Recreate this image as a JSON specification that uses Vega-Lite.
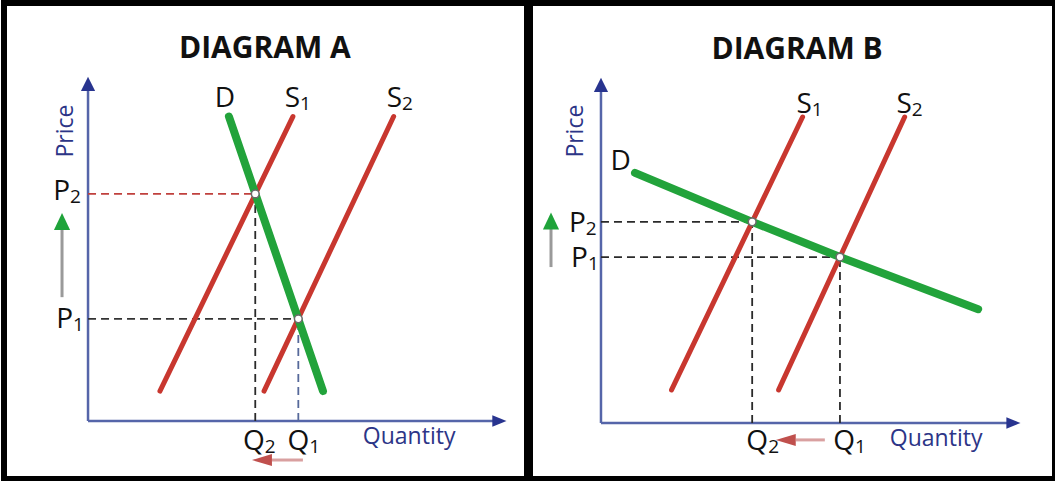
{
  "$schema": "https://vega.github.io/schema/vega-lite/v6.json",
  "padding": {"left": 1, "top": 0, "right": 0, "bottom": 0},
  "spacing": -6,
  "background": "white",
  "config": {"view": {"stroke": "#000000", "strokeWidth": 6}, "font": "Open Sans"},
  "datasets": {
    "curves": [
      {"panel": "A", "curve": "D", "ord": 1, "q": 3.37, "p": 8.85},
      {"panel": "A", "curve": "D", "ord": 2, "q": 5.62, "p": 0.87},
      {"panel": "A", "curve": "S1", "ord": 1, "q": 1.72, "p": 0.87},
      {"panel": "A", "curve": "S1", "ord": 2, "q": 4.90, "p": 8.85},
      {"panel": "A", "curve": "S2", "ord": 1, "q": 4.21, "p": 0.87},
      {"panel": "A", "curve": "S2", "ord": 2, "q": 7.31, "p": 8.85},
      {"panel": "B", "curve": "D", "ord": 1, "q": 0.81, "p": 7.25},
      {"panel": "B", "curve": "D", "ord": 2, "q": 3.60, "p": 5.83},
      {"panel": "B", "curve": "D", "ord": 3, "q": 5.69, "p": 4.81},
      {"panel": "B", "curve": "D", "ord": 4, "q": 8.98, "p": 3.30},
      {"panel": "B", "curve": "S1", "ord": 1, "q": 1.68, "p": 0.96},
      {"panel": "B", "curve": "S1", "ord": 2, "q": 4.80, "p": 8.87},
      {"panel": "B", "curve": "S2", "ord": 1, "q": 4.23, "p": 0.96},
      {"panel": "B", "curve": "S2", "ord": 2, "q": 7.23, "p": 8.87}
    ],
    "crossings": [
      {"panel": "A", "q": 4.00, "p": 6.60},
      {"panel": "A", "q": 5.03, "p": 2.97},
      {"panel": "B", "q": 3.60, "p": 5.83},
      {"panel": "B", "q": 5.69, "p": 4.81}
    ],
    "rules": [
      {"panel": "A", "kind": "axis", "seg": "price axis", "q": 0, "p": 0, "q2": 0, "p2": 9.75},
      {"panel": "A", "kind": "axis", "seg": "quantity axis", "q": 0, "p": 0, "q2": 9.80, "p2": 0},
      {"panel": "A", "kind": "guide", "seg": "P2 level", "q": 0, "p": 6.60, "q2": 4.00, "p2": 6.60},
      {"panel": "A", "kind": "guide", "seg": "Q2 level", "q": 4.00, "p": 0, "q2": 4.00, "p2": 6.60},
      {"panel": "A", "kind": "guide", "seg": "P1 level", "q": 0, "p": 2.97, "q2": 5.03, "p2": 2.97},
      {"panel": "A", "kind": "guide", "seg": "Q1 level", "q": 5.03, "p": 0, "q2": 5.03, "p2": 2.97},
      {"panel": "A", "kind": "change", "seg": "price change", "q": -0.622, "p": 3.60, "q2": -0.622, "p2": 5.61},
      {"panel": "A", "kind": "change", "seg": "quantity change", "q": 4.40, "p": -1.134, "q2": 5.14, "p2": -1.134},
      {"panel": "B", "kind": "axis", "seg": "price axis", "q": 0, "p": 0, "q2": 0, "p2": 9.75},
      {"panel": "B", "kind": "axis", "seg": "quantity axis", "q": 0, "p": 0, "q2": 9.80, "p2": 0},
      {"panel": "B", "kind": "guide", "seg": "P2 level", "q": 0, "p": 5.83, "q2": 3.60, "p2": 5.83},
      {"panel": "B", "kind": "guide", "seg": "Q2 level", "q": 3.60, "p": 0, "q2": 3.60, "p2": 5.83},
      {"panel": "B", "kind": "guide", "seg": "P1 level", "q": 0, "p": 4.81, "q2": 5.69, "p2": 4.81},
      {"panel": "B", "kind": "guide", "seg": "Q1 level", "q": 5.69, "p": 0, "q2": 5.69, "p2": 4.81},
      {"panel": "B", "kind": "change", "seg": "price change", "q": -1.19, "p": 4.52, "q2": -1.19, "p2": 5.65},
      {"panel": "B", "kind": "change", "seg": "quantity change", "q": 4.64, "p": -0.49, "q2": 5.33, "p2": -0.49}
    ],
    "heads": [
      {"panel": "A", "head": "price axis", "q": 0, "p": 9.80},
      {"panel": "A", "head": "quantity axis", "q": 9.84, "p": 0},
      {"panel": "A", "head": "price change", "q": -0.622, "p": 5.80},
      {"panel": "A", "head": "quantity change", "q": 4.16, "p": -1.134},
      {"panel": "B", "head": "price axis", "q": 0, "p": 9.80},
      {"panel": "B", "head": "quantity axis", "q": 9.82, "p": 0},
      {"panel": "B", "head": "price change", "q": -1.19, "p": 5.855},
      {"panel": "B", "head": "quantity change", "q": 4.40, "p": -0.49}
    ],
    "letters": [
      {"panel": "A", "main": "D", "sub": "", "q": 3.52, "p": 9.13},
      {"panel": "A", "main": "S", "sub": "1", "q": 5.07, "p": 9.13},
      {"panel": "A", "main": "S", "sub": "2", "q": 7.51, "p": 9.13},
      {"panel": "A", "main": "P", "sub": "2", "q": -0.43, "p": 6.42},
      {"panel": "A", "main": "P", "sub": "1", "q": -0.36, "p": 2.70},
      {"panel": "A", "main": "Q", "sub": "2", "q": 4.23, "p": -0.84},
      {"panel": "A", "main": "Q", "sub": "1", "q": 5.29, "p": -0.84},
      {"panel": "B", "main": "D", "sub": "", "q": 0.71, "p": 7.33},
      {"panel": "B", "main": "S", "sub": "1", "q": 5.02, "p": 8.99},
      {"panel": "B", "main": "S", "sub": "2", "q": 7.40, "p": 8.99},
      {"panel": "B", "main": "P", "sub": "2", "q": -0.36, "p": 5.54},
      {"panel": "B", "main": "P", "sub": "1", "q": -0.31, "p": 4.52},
      {"panel": "B", "main": "Q", "sub": "2", "q": 3.98, "p": -0.78},
      {"panel": "B", "main": "Q", "sub": "1", "q": 6.05, "p": -0.78}
    ],
    "names": [
      {"panel": "A", "name": "Price", "q": -0.526, "p": 8.43},
      {"panel": "A", "name": "Quantity", "q": 7.68, "p": -0.47},
      {"panel": "B", "name": "Price", "q": -0.595, "p": 8.46},
      {"panel": "B", "name": "Quantity", "q": 7.98, "p": -0.46}
    ],
    "titles": [
      {"panel": "A", "title": "DIAGRAM A", "q": 4.23, "p": 10.81},
      {"panel": "B", "title": "DIAGRAM B", "q": 4.67, "p": 10.81}
    ]
  },
  "hconcat": [
    {
      "width": 523,
      "height": 476,
      "encoding": {
        "x": {"field": "q", "type": "quantitative", "scale": {"domain": [-2.01, 10.5], "nice": false, "zero": false}, "axis": null},
        "y": {"field": "p", "type": "quantitative", "scale": {"domain": [-1.686, 12.151], "nice": false, "zero": false}, "axis": null}
      },
      "resolve": {"scale": {"color": "independent", "shape": "independent"}},
      "layer": [
        {
          "data": {"name": "rules"},
          "transform": [{"filter": "datum.panel === 'A' && datum.kind === 'axis'"}],
          "mark": {"type": "rule", "color": "#5565a9", "strokeWidth": 2.5},
          "encoding": {"x2": {"field": "q2"}, "y2": {"field": "p2"}}
        },
        {
          "data": {"name": "heads"},
          "transform": [{"filter": "datum.panel === 'A' && (datum.head === 'price axis' || datum.head === 'quantity axis')"}],
          "mark": {"type": "point", "filled": true, "opacity": 1, "color": "#28348f", "size": 200},
          "encoding": {
            "shape": {"field": "head", "type": "nominal", "legend": null,
              "scale": {"domain": ["price axis", "quantity axis"], "range": ["M0,-1L1,1L-1,1Z", "M1,0L-1,-0.8L-1,0.8Z"]}}
          }
        },
        {
          "data": {"name": "rules"},
          "transform": [{"filter": "datum.panel === 'A' && datum.kind === 'guide'"}],
          "mark": {"type": "rule", "strokeWidth": 1.8, "strokeDash": [8, 5]},
          "encoding": {
            "x2": {"field": "q2"}, "y2": {"field": "p2"},
            "color": {"field": "seg", "type": "nominal", "legend": null,
              "scale": {"domain": ["P2 level", "Q2 level", "P1 level", "Q1 level"], "range": ["#c0403d", "#2a2a2a", "#333333", "#56699a"]}}
          }
        },
        {
          "data": {"name": "curves"},
          "transform": [{"filter": "datum.panel === 'A' && datum.curve !== 'D'"}],
          "mark": {"type": "line", "color": "#c8372f", "strokeWidth": 5, "strokeCap": "round"},
          "encoding": {"detail": {"field": "curve"}, "order": {"field": "ord"}}
        },
        {
          "data": {"name": "curves"},
          "transform": [{"filter": "datum.panel === 'A' && datum.curve === 'D'"}],
          "mark": {"type": "line", "color": "#22a33b", "strokeWidth": 8, "strokeCap": "round"},
          "encoding": {"order": {"field": "ord"}}
        },
        {
          "data": {"name": "crossings"},
          "transform": [{"filter": "datum.panel === 'A'"}],
          "mark": {"type": "point", "shape": "circle", "filled": true, "fill": "#ffffff", "stroke": "#6a6a6a", "strokeWidth": 1.5, "size": 60, "opacity": 1}
        },
        {
          "data": {"name": "rules"},
          "transform": [{"filter": "datum.panel === 'A' && datum.kind === 'change'"}],
          "mark": {"type": "rule", "strokeWidth": 3},
          "encoding": {
            "x2": {"field": "q2"}, "y2": {"field": "p2"},
            "color": {"field": "seg", "type": "nominal", "legend": null,
              "scale": {"domain": ["price change", "quantity change"], "range": ["#9a9a9a", "#d9a0a0"]}}
          }
        },
        {
          "data": {"name": "heads"},
          "transform": [{"filter": "datum.panel === 'A' && datum.head === 'price change'"}],
          "mark": {"type": "point", "filled": true, "opacity": 1, "color": "#1fa33a", "size": 289, "shape": "M0,-1L0.95,1L-0.95,1Z"}
        },
        {
          "data": {"name": "heads"},
          "transform": [{"filter": "datum.panel === 'A' && datum.head === 'quantity change'"}],
          "mark": {"type": "point", "filled": true, "opacity": 1, "color": "#c0504d", "size": 400, "shape": "M-1,0L1,-0.6L1,0.6Z"}
        },
        {
          "data": {"name": "letters"},
          "transform": [{"filter": "datum.panel === 'A'"}],
          "mark": {"type": "text", "align": "right", "baseline": "alphabetic", "font": "Open Sans", "fontSize": 28, "color": "#111111"},
          "encoding": {"text": {"field": "main"}}
        },
        {
          "data": {"name": "letters"},
          "transform": [{"filter": "datum.panel === 'A'"}],
          "mark": {"type": "text", "align": "left", "baseline": "alphabetic", "font": "Open Sans", "fontSize": 19, "dy": 3, "color": "#111111"},
          "encoding": {"text": {"field": "sub"}}
        },
        {
          "data": {"name": "names"},
          "transform": [{"filter": "datum.panel === 'A' && datum.name === 'Price'"}],
          "mark": {"type": "text", "align": "center", "baseline": "middle", "font": "Open Sans", "fontSize": 23, "angle": 270, "color": "#2c3587"},
          "encoding": {"text": {"field": "name"}}
        },
        {
          "data": {"name": "names"},
          "transform": [{"filter": "datum.panel === 'A' && datum.name === 'Quantity'"}],
          "mark": {"type": "text", "align": "center", "baseline": "middle", "font": "Open Sans", "fontSize": 23, "color": "#2c3587"},
          "encoding": {"text": {"field": "name"}}
        },
        {
          "data": {"name": "titles"},
          "transform": [{"filter": "datum.panel === 'A'"}],
          "mark": {"type": "text", "align": "center", "baseline": "middle", "font": "Open Sans", "fontSize": 30, "fontWeight": "bold", "color": "#111111"},
          "encoding": {"text": {"field": "title"}}
        }
      ]
    },
    {
      "width": 525,
      "height": 476,
      "encoding": {
        "x": {"field": "q", "type": "quantitative", "scale": {"domain": [-1.69, 10.81], "nice": false, "zero": false}, "axis": null},
        "y": {"field": "p", "type": "quantitative", "scale": {"domain": [-1.623, 12.174], "nice": false, "zero": false}, "axis": null}
      },
      "resolve": {"scale": {"color": "independent", "shape": "independent"}},
      "layer": [
        {
          "data": {"name": "rules"},
          "transform": [{"filter": "datum.panel === 'B' && datum.kind === 'axis'"}],
          "mark": {"type": "rule", "color": "#5565a9", "strokeWidth": 2.5},
          "encoding": {"x2": {"field": "q2"}, "y2": {"field": "p2"}}
        },
        {
          "data": {"name": "heads"},
          "transform": [{"filter": "datum.panel === 'B' && (datum.head === 'price axis' || datum.head === 'quantity axis')"}],
          "mark": {"type": "point", "filled": true, "opacity": 1, "color": "#28348f", "size": 200},
          "encoding": {
            "shape": {"field": "head", "type": "nominal", "legend": null,
              "scale": {"domain": ["price axis", "quantity axis"], "range": ["M0,-1L1,1L-1,1Z", "M1,0L-1,-0.8L-1,0.8Z"]}}
          }
        },
        {
          "data": {"name": "rules"},
          "transform": [{"filter": "datum.panel === 'B' && datum.kind === 'guide'"}],
          "mark": {"type": "rule", "strokeWidth": 1.8, "strokeDash": [8, 5], "color": "#2a2a2a"},
          "encoding": {"x2": {"field": "q2"}, "y2": {"field": "p2"}}
        },
        {
          "data": {"name": "curves"},
          "transform": [{"filter": "datum.panel === 'B' && datum.curve !== 'D'"}],
          "mark": {"type": "line", "color": "#c8372f", "strokeWidth": 5, "strokeCap": "round"},
          "encoding": {"detail": {"field": "curve"}, "order": {"field": "ord"}}
        },
        {
          "data": {"name": "curves"},
          "transform": [{"filter": "datum.panel === 'B' && datum.curve === 'D'"}],
          "mark": {"type": "line", "color": "#22a33b", "strokeWidth": 8, "strokeCap": "round"},
          "encoding": {"order": {"field": "ord"}}
        },
        {
          "data": {"name": "crossings"},
          "transform": [{"filter": "datum.panel === 'B'"}],
          "mark": {"type": "point", "shape": "circle", "filled": true, "fill": "#ffffff", "stroke": "#6a6a6a", "strokeWidth": 1.5, "size": 60, "opacity": 1}
        },
        {
          "data": {"name": "rules"},
          "transform": [{"filter": "datum.panel === 'B' && datum.kind === 'change'"}],
          "mark": {"type": "rule", "strokeWidth": 3},
          "encoding": {
            "x2": {"field": "q2"}, "y2": {"field": "p2"},
            "color": {"field": "seg", "type": "nominal", "legend": null,
              "scale": {"domain": ["price change", "quantity change"], "range": ["#9a9a9a", "#d9a0a0"]}}
          }
        },
        {
          "data": {"name": "heads"},
          "transform": [{"filter": "datum.panel === 'B' && datum.head === 'price change'"}],
          "mark": {"type": "point", "filled": true, "opacity": 1, "color": "#1fa33a", "size": 289, "shape": "M0,-1L0.95,1L-0.95,1Z"}
        },
        {
          "data": {"name": "heads"},
          "transform": [{"filter": "datum.panel === 'B' && datum.head === 'quantity change'"}],
          "mark": {"type": "point", "filled": true, "opacity": 1, "color": "#c0504d", "size": 400, "shape": "M-1,0L1,-0.6L1,0.6Z"}
        },
        {
          "data": {"name": "letters"},
          "transform": [{"filter": "datum.panel === 'B'"}],
          "mark": {"type": "text", "align": "right", "baseline": "alphabetic", "font": "Open Sans", "fontSize": 28, "color": "#111111"},
          "encoding": {"text": {"field": "main"}}
        },
        {
          "data": {"name": "letters"},
          "transform": [{"filter": "datum.panel === 'B'"}],
          "mark": {"type": "text", "align": "left", "baseline": "alphabetic", "font": "Open Sans", "fontSize": 19, "dy": 3, "color": "#111111"},
          "encoding": {"text": {"field": "sub"}}
        },
        {
          "data": {"name": "names"},
          "transform": [{"filter": "datum.panel === 'B' && datum.name === 'Price'"}],
          "mark": {"type": "text", "align": "center", "baseline": "middle", "font": "Open Sans", "fontSize": 23, "angle": 270, "color": "#2c3587"},
          "encoding": {"text": {"field": "name"}}
        },
        {
          "data": {"name": "names"},
          "transform": [{"filter": "datum.panel === 'B' && datum.name === 'Quantity'"}],
          "mark": {"type": "text", "align": "center", "baseline": "middle", "font": "Open Sans", "fontSize": 23, "color": "#2c3587"},
          "encoding": {"text": {"field": "name"}}
        },
        {
          "data": {"name": "titles"},
          "transform": [{"filter": "datum.panel === 'B'"}],
          "mark": {"type": "text", "align": "center", "baseline": "middle", "font": "Open Sans", "fontSize": 30, "fontWeight": "bold", "color": "#111111"},
          "encoding": {"text": {"field": "title"}}
        }
      ]
    }
  ]
}
